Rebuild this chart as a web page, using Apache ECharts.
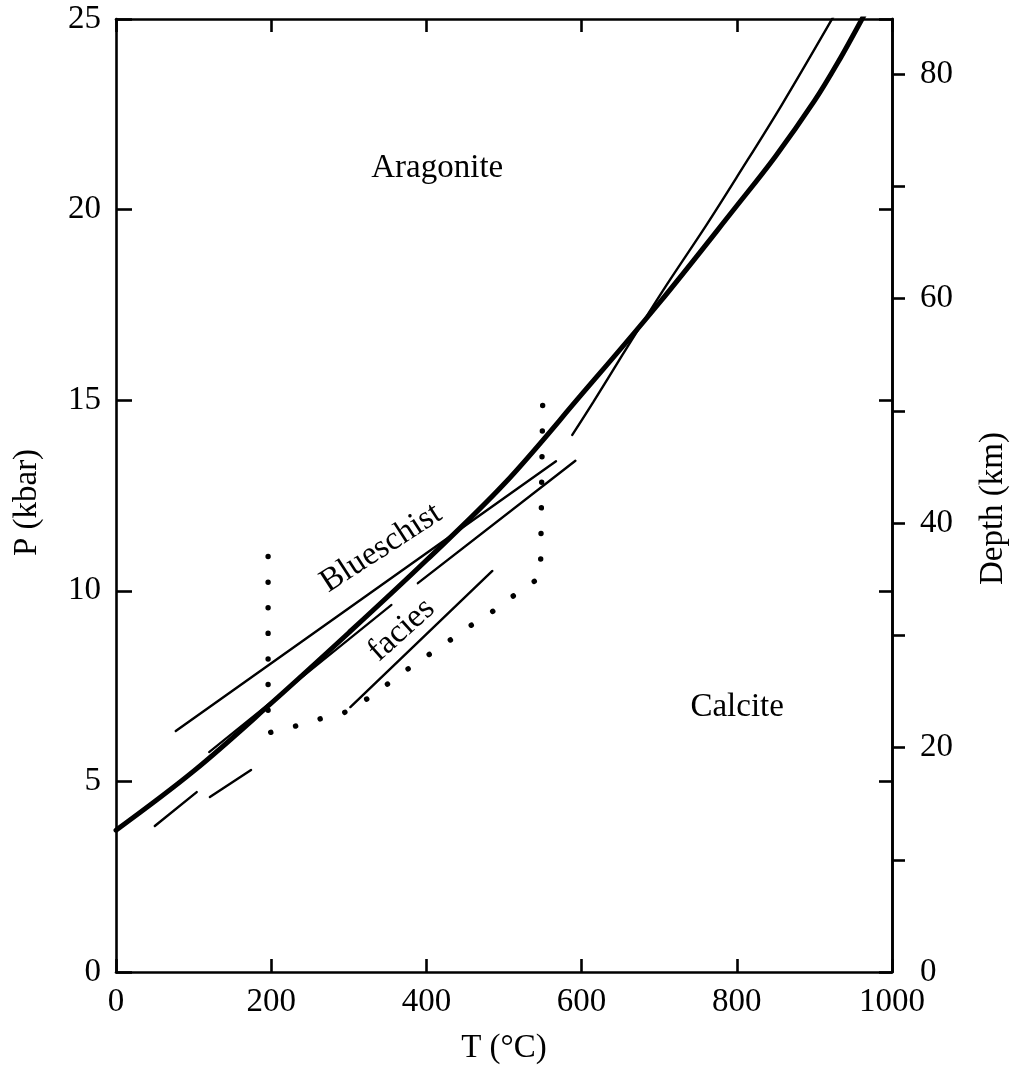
<!DOCTYPE html>
<html>
<head>
<meta charset="utf-8">
<script src="https://cdn.jsdelivr.net/npm/echarts@6/dist/echarts.min.js"></script>
<style>
html,body{margin:0;padding:0;background:#fff;overflow:hidden;}
#chart{width:1012px;height:1071px;}
</style>
</head>
<body>
<div id="chart"></div>
<script>
// ---- tick values ----
const tempTicks = [0, 200, 400, 600, 800, 1000];
const pressureTicks = [0, 5, 10, 15, 20, 25];
const depthTickValues = [10, 20, 30, 40, 50, 60, 70, 80];
const depthLabelValues = [0, 20, 40, 60, 80];
const depthMax = 84.9;

// ---- aragonite/calcite boundary (thick) ----
const boundaryT = [0, 100, 200, 300, 400, 500, 600, 700, 800, 850, 900, 930, 964];
const boundaryP = [3.72, 5.27, 7.05, 8.90, 10.80, 12.80, 15.15, 17.55, 20.1, 21.4, 22.85, 23.85, 25.1];

// ---- second (thin) boundary curve at high T ----
const upperT = [588, 615, 653, 704, 761, 800, 858, 925];
const upperP = [14.09, 14.95, 16.2, 17.85, 19.6, 20.85, 22.75, 25.08];

// ---- blueschist facies lines ----
const lineAT = [77, 567];     const lineAP = [6.32, 13.40];
const lineBT = [389, 592];    const lineBP = [10.20, 13.41];
const lineCT = [302, 485];    const lineCP = [6.95, 10.52];
const lineDT = [120, 355];    const lineDP = [5.77, 9.63];
const dashE1T = [50, 104];    const dashE1P = [3.83, 4.72];
const dashE2T = [121, 174];   const dashE2P = [4.59, 5.30];

// ---- dotted facies outline ----
const dotT = [196, 196, 228, 261, 293, 323, 355, 387, 420, 452, 484, 517, 547, 550];
const dotP = [10.9, 6.27, 6.43, 6.63, 6.79, 7.16, 7.63, 8.11, 8.55, 9.02, 9.44, 9.94, 10.36, 15.14];

// ---- text labels ----
const labelNames = ['Aragonite', 'Calcite', 'Blueschist', 'facies'];
const labelT = [414, 800.5, 341.6, 368];
const labelP = [21.08, 6.95, 11.12, 8.97];
const labelRot = [0, 0, 33, 42];

const zip = (a, b) => a.map((v, i) => [v, b[i]]);

const FONT = '"Liberation Serif","DejaVu Serif",serif';
const FS = 33;
const black = '#000';

function lineSeries(t, p, width, extra) {
  return Object.assign({
    type: 'line',
    data: zip(t, p),
    showSymbol: false,
    symbol: 'none',
    silent: true,
    animation: false,
    lineStyle: { color: black, width: width, cap: 'round' }
  }, extra || {});
}

const chart = echarts.init(document.getElementById('chart'), null, { renderer: 'canvas' });

const axisLine = { show: true, onZero: false, lineStyle: { color: black, width: 2.6 } };
const plain = v => String(v);

const option = {
  backgroundColor: '#fff',
  animation: false,
  grid: { left: 116, right: 120, top: 19, bottom: 99, containLabel: false, outerBoundsMode: 'none' },
  xAxis: [
    {
      type: 'value', position: 'bottom', min: 0, max: 1000, interval: 200,
      name: 'T (°C)', nameLocation: 'middle', nameGap: 60,
      nameTextStyle: { fontFamily: FONT, fontSize: FS, color: black },
      axisLine: axisLine,
      axisTick: { show: true, inside: true, length: 13, lineStyle: { color: black, width: 2.6 }, customValues: tempTicks },
      axisLabel: { show: true, margin: 14, fontFamily: FONT, fontSize: FS, color: black, customValues: tempTicks, formatter: plain },
      splitLine: { show: false }
    },
    {
      type: 'value', position: 'top', min: 0, max: 1000, interval: 200,
      axisLine: axisLine,
      axisTick: { show: true, inside: true, length: 13, lineStyle: { color: black, width: 2.6 }, customValues: tempTicks },
      axisLabel: { show: false },
      splitLine: { show: false }
    }
  ],
  yAxis: [
    {
      type: 'value', position: 'left', min: 0, max: 25, interval: 5,
      name: 'P (kbar)', nameLocation: 'middle', nameGap: 72, nameRotate: 90,
      nameTextStyle: { fontFamily: FONT, fontSize: FS, color: black, padding: [0, 0, 0, -14] },
      axisLine: axisLine,
      axisTick: { show: true, inside: true, length: 16, lineStyle: { color: black, width: 2.6 }, customValues: pressureTicks },
      axisLabel: { show: true, margin: 15, fontFamily: FONT, fontSize: FS, color: black, customValues: pressureTicks, formatter: plain },
      splitLine: { show: false }
    },
    {
      type: 'value', position: 'right', min: 0, max: 25, interval: 5,
      axisLine: axisLine,
      axisTick: { show: true, inside: true, length: 13, lineStyle: { color: black, width: 2.6 }, customValues: pressureTicks },
      axisLabel: { show: false },
      splitLine: { show: false }
    },
    {
      type: 'value', position: 'right', min: 0, max: depthMax, interval: 10,
      name: 'Depth (km)', nameLocation: 'middle', nameGap: 85, nameRotate: 90,
      nameTextStyle: { fontFamily: FONT, fontSize: FS, color: black, padding: [0, 0, 0, -26] },
      axisLine: axisLine,
      axisTick: { show: true, inside: false, length: 13, lineStyle: { color: black, width: 2.6 }, customValues: depthTickValues },
      axisLabel: { show: true, margin: 28, fontFamily: FONT, fontSize: FS, color: black, customValues: depthLabelValues, formatter: plain },
      splitLine: { show: false }
    }
  ],
  series: [
    lineSeries(boundaryT, boundaryP, 5, { smooth: 0.35, z: 5 }),
    lineSeries(upperT, upperP, 2.4, { smooth: 0.35 }),
    lineSeries(lineAT, lineAP, 2.4),
    lineSeries(lineBT, lineBP, 2.4),
    lineSeries(lineCT, lineCP, 2.4),
    lineSeries(lineDT, lineDP, 2.2),
    lineSeries(dashE1T, dashE1P, 2.4),
    lineSeries(dashE2T, dashE2P, 2.4),
    lineSeries(dotT, dotP, 5.4, {
      lineStyle: { color: black, width: 5.4, type: [0.1, 25.5], cap: 'round', join: 'round' }
    }),
    {
      type: 'scatter',
      symbolSize: 0,
      silent: true,
      itemStyle: { opacity: 1 },
      data: labelNames.map((n, i) => ({
        name: n,
        value: [labelT[i], labelP[i]],
        label: { rotate: labelRot[i] }
      })),
      label: {
        show: true, position: 'inside', formatter: '{b}',
        fontFamily: FONT, fontSize: FS, color: black, opacity: 1,
        align: 'center', verticalAlign: 'middle'
      },
      z: 10
    }
  ]
};

chart.setOption(option);
</script>
</body>
</html>
